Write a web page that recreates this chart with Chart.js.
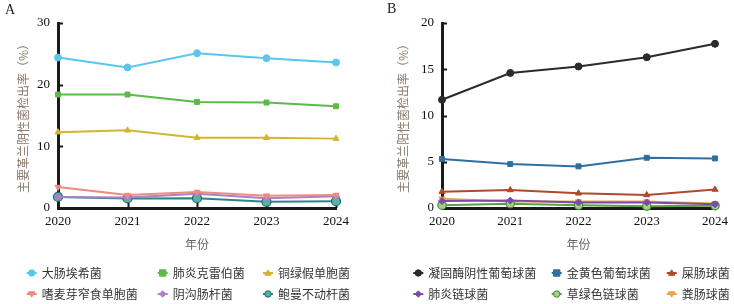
<!DOCTYPE html>
<html>
<head>
<meta charset="utf-8">
<script src="https://cdn.jsdelivr.net/npm/chart.js@4.4.0/dist/chart.umd.min.js"></script>
<style>
  body { margin: 0; background: #fff; width: 734px; height: 304px; overflow: hidden; position: relative; }
  .wrap { position: absolute; top: 0; width: 367px; height: 304px; }
  .tag { position: absolute; font: 14px 'Liberation Serif', serif; color: #222; }
</style>
</head>
<body>
<div class="wrap" style="left:0"><canvas id="chartA"></canvas></div>
<div class="wrap" style="left:367px"><canvas id="chartB"></canvas></div>
<div class="tag" style="left:5px;top:2px">A</div>
<div class="tag" style="left:387px;top:1px">B</div>
<script>
// --- data ---
const years = ['2020', '2021', '2022', '2023', '2024'];

// panel A: gram-negative
const ecoli = [24.4, 22.8, 25.1, 24.3, 23.6];
const kpn = [18.4, 18.4, 17.2, 17.1, 16.5];
const pae = [12.3, 12.6, 11.4, 11.4, 11.25];
const sma = [3.4, 2.1, 2.6, 2.0, 2.1];
const ecl = [1.8, 1.7, 2.3, 1.6, 1.9];
const aba = [1.8, 1.55, 1.6, 1.0, 1.1];

// panel B: gram-positive
const cons = [11.7, 14.6, 15.3, 16.3, 17.75];
const sau = [5.3, 4.75, 4.5, 5.43, 5.36];
const efm = [1.77, 1.95, 1.59, 1.41, 2.0];
const spn = [0.76, 0.8, 0.6, 0.6, 0.4];
const svi = [0.3, 0.47, 0.3, 0.2, 0.25];
const efa = [1.0, 0.7, 0.7, 0.7, 0.5];

const ticksA = [0, 10, 20, 30];
const ticksB = [0, 5, 10, 15, 20];

// --- helpers ---
function series(label, data, color, style, extra) {
    return Object.assign({
        label: label, data: data,
        borderColor: color, backgroundColor: color,
        pointBackgroundColor: color, pointBorderColor: color,
        borderWidth: 2, pointRadius: 3.5, pointStyle: style,
        pointBorderWidth: 1, tension: 0, clip: false
    }, extra || {});
}

function marker(ctx, ds, x, y) {
    const r = 3.2;
    ctx.fillStyle = ds.pointBackgroundColor;
    ctx.strokeStyle = ds.pointBorderColor;
    ctx.lineWidth = 1;
    ctx.beginPath();
    if (ds.pointStyle === 'circle') {
        ctx.arc(x, y, r, 0, Math.PI * 2);
    } else if (ds.pointStyle === 'rect') {
        ctx.rect(x - r, y - r, r * 2, r * 2);
    } else if (ds.pointStyle === 'rectRot') {
        ctx.moveTo(x, y - r); ctx.lineTo(x + r, y); ctx.lineTo(x, y + r); ctx.lineTo(x - r, y);
        ctx.closePath();
    } else if (ds.pointStyle === 'triangle') {
        const s = ds.pointRotation ? -1 : 1;
        ctx.moveTo(x, y - r * s); ctx.lineTo(x + r, y + r * 0.7 * s); ctx.lineTo(x - r, y + r * 0.7 * s);
        ctx.closePath();
    }
    ctx.fill();
    ctx.stroke();
}

// legend drawn in fixed columns, like the original figure
const colLegend = {
    id: 'colLegend',
    afterDraw(chart, args, opts) {
        const ctx = chart.ctx;
        ctx.save();
        chart.data.datasets.forEach((ds, i) => {
            const x = opts.cols[i % 3];
            const y = opts.rows[Math.floor(i / 3)];
            ctx.strokeStyle = ds.borderColor;
            ctx.lineWidth = 2;
            ctx.beginPath(); ctx.moveTo(x - 5, y); ctx.lineTo(x + 5, y); ctx.stroke();
            marker(ctx, ds, x, y);
            ctx.fillStyle = '#333';
            ctx.font = '12px "Noto Sans CJK SC", sans-serif';
            ctx.textBaseline = 'middle';
            ctx.textAlign = 'left';
            ctx.fillText(ds.label, x + 10, y);
        });
        ctx.restore();
    }
};

// tick marks pointing into the plot area
const innerTicks = {
    id: 'innerTicks',
    beforeDatasetsDraw(chart) {
        const ctx = chart.ctx;
        const xs = chart.scales.x, ys = chart.scales.y;
        ctx.save();
        ctx.strokeStyle = '#1a1a1a';
        ctx.lineWidth = 2;
        ctx.beginPath();
        ys.ticks.forEach(t => {
            const py = Math.round(ys.getPixelForValue(t.value)) + 0.5;
            ctx.moveTo(xs.left, py); ctx.lineTo(xs.left + 5, py);
        });
        xs.ticks.forEach((t, i) => {
            const px = Math.round(xs.getPixelForValue(i)) + 0.5;
            ctx.moveTo(px, ys.bottom); ctx.lineTo(px, ys.bottom - 5);
        });
        ctx.stroke();
        ctx.restore();
    }
};

function makeOptions(yTicks, yWidth, titlePad, padRight, cols) {
    return {
        responsive: true,
        maintainAspectRatio: false,
        animation: false,
        clip: false,
        layout: { padding: { top: 23, right: padRight, bottom: 52, left: 0 } },
        plugins: {
            legend: { display: false },
            tooltip: { enabled: false },
            colLegend: { cols: cols, rows: [273, 294] }
        },
        scales: {
            x: {
                offset: false,
                grid: { display: false, drawTicks: false },
                border: { display: true, color: '#1a1a1a', width: 3 },
                ticks: { color: '#111', padding: 6, maxRotation: 0, font: { family: "'Liberation Serif', serif", size: 13 } },
                title: { display: true, text: '年份', color: '#666', padding: { top: 0, bottom: 0 },
                         font: { family: '"Noto Sans CJK SC", sans-serif', size: 12 } },
                afterFit: s => { s.height = 44; }
            },
            y: {
                min: 0, max: yTicks[yTicks.length - 1],
                afterBuildTicks: s => { s.ticks = yTicks.map(v => ({ value: v })); },
                grid: { display: false, drawTicks: false },
                border: { display: true, color: '#1a1a1a', width: 3 },
                ticks: { color: '#111', padding: 8, font: { family: "'Liberation Serif', serif", size: 13 } },
                title: { display: true, text: '主要革兰阴性菌检出率（%）', color: '#8a7a6c', padding: { top: titlePad, bottom: 0 },
                         font: { family: '"Noto Sans CJK SC", sans-serif', size: 12 } },
                afterFit: s => { s.width = yWidth; }
            }
        }
    };
}

// --- 1. Panel A ---
new Chart(document.getElementById('chartA'), {
    type: 'line',
    data: {
        labels: years,
        datasets: [
            series('大肠埃希菌', ecoli, '#5cc6ea', 'circle'),
            series('肺炎克雷伯菌', kpn, '#5bbb48', 'rect'),
            series('铜绿假单胞菌', pae, '#d4b430', 'triangle'),
            series('嗜麦芽窄食单胞菌', sma, '#e98d80', 'triangle', { pointRotation: 180 }),
            series('阴沟肠杆菌', ecl, '#b27cc8', 'rectRot'),
            series('鲍曼不动杆菌', aba, '#2b8580', 'circle',
                   { pointRadius: 4.5, pointBackgroundColor: '#55b2aa', pointBorderColor: '#1f6a66', pointBorderWidth: 1.2 })
        ]
    },
    options: makeOptions(ticksA, 58, 16, 31, [31.7, 162.7, 268]),
    plugins: [colLegend, innerTicks]
});

// --- 2. Panel B ---
const optB = makeOptions(ticksB, 75, 29, 15, [418.3 - 367, 556.7 - 367, 671.7 - 367]);
optB.scales.y.title.text = '主要革兰阳性菌检出率（%）';
new Chart(document.getElementById('chartB'), {
    type: 'line',
    data: {
        labels: years,
        datasets: [
            series('凝固酶阴性葡萄球菌', cons, '#2b2b2b', 'circle'),
            series('金黄色葡萄球菌', sau, '#2f6f9f', 'rect'),
            series('屎肠球菌', efm, '#b04a2a', 'triangle'),
            series('肺炎链球菌', spn, '#7d4aa8', 'rectRot'),
            series('草绿色链球菌', svi, '#5a9e45', 'circle',
                   { pointRadius: 4.2, pointBackgroundColor: '#9fd08a', pointBorderColor: '#4a8a38', pointBorderWidth: 1.2 }),
            series('粪肠球菌', efa, '#eaa444', 'triangle', { pointRotation: 180 })
        ]
    },
    options: optB,
    plugins: [colLegend, innerTicks]
});
</script>
</body>
</html>
